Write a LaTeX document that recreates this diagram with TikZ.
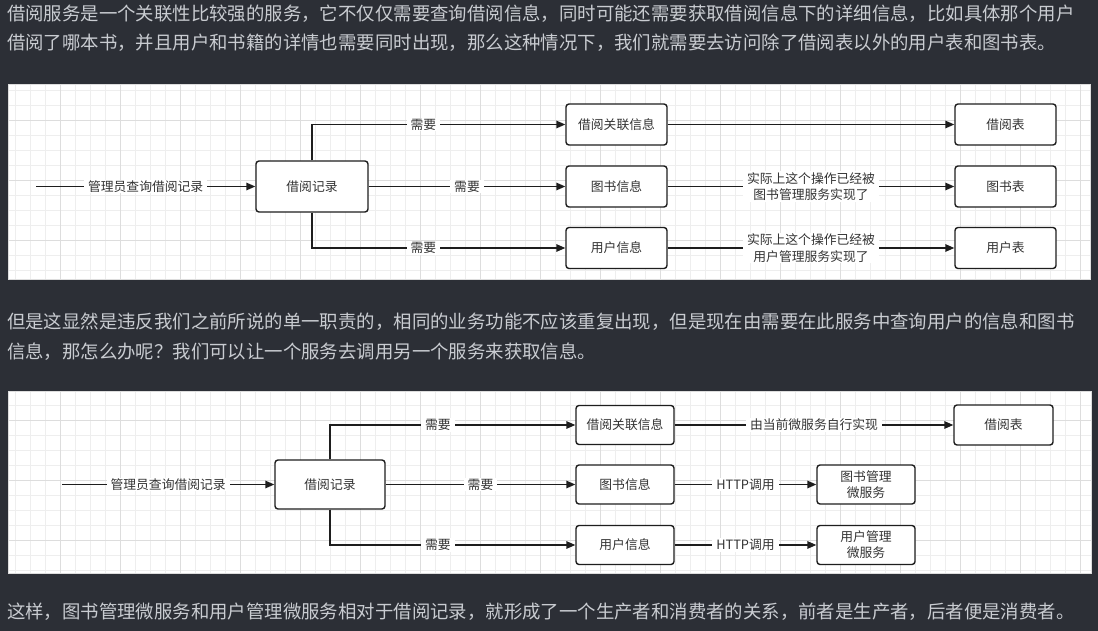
\documentclass[tikz,border=0pt]{standalone}
\usepackage{fontspec}
\setmainfont{Noto Sans CJK SC}
\usetikzlibrary{arrows.meta,positioning}
\definecolor{pagebg}{HTML}{2C2F36}
\definecolor{pagetext}{HTML}{C9CCD1}
\definecolor{ink}{HTML}{1E1E1E}
\definecolor{boxtext}{HTML}{333333}
\definecolor{gridlo}{HTML}{EEEEEE}
\definecolor{gridhi}{HTML}{DDDDDD}

\begin{document}
\begin{tikzpicture}[x=1pt, y=-1pt,
  para/.style={anchor=west, text=pagetext, font=\fontsize{18.4}{22}\selectfont, inner sep=0pt},
  box/.style={draw=ink, line width=1.4pt, rounded corners=3pt, fill=white, text=boxtext,
    font=\fontsize{12.8}{16}\selectfont, align=center, inner sep=0pt},
  rec1/.style={box, minimum width=112pt, minimum height=51pt},
  info1/.style={box, minimum width=101pt, minimum height=41pt},
  rec2/.style={box, minimum width=110pt, minimum height=49pt},
  info2/.style={box, minimum width=98pt, minimum height=39pt},
  flow/.style={draw=ink, line width=1.5pt, -{Triangle[length=9pt,width=7.5pt]}},
  lbl/.style={fill=white, text=boxtext, font=\fontsize{12.8}{16.5}\selectfont, inner xsep=4pt, inner ysep=1pt, align=center}]
  \useasboundingbox (0,0) rectangle (1098,631);
  \fill[pagebg] (0,0) rectangle (1098,631);

  \node[para] (p1) at (7,14) {借阅服务是一个关联性比较强的服务，它不仅仅需要查询借阅信息，同时可能还需要获取借阅信息下的详细信息，比如具体那个用户};
  \node[para] (p2) at (7,43) {借阅了哪本书，并且用户和书籍的详情也需要同时出现，那么这种情况下，我们就需要去访问除了借阅表以外的用户表和图书表。};
  \node[para] (p3) at (7,322) {但是这显然是违反我们之前所说的单一职责的，相同的业务功能不应该重复出现，但是现在由需要在此服务中查询用户的信息和图书};
  \node[para] (p4) at (7,352) {信息，那怎么办呢？我们可以让一个服务去调用另一个服务来获取信息。};
  \node[para] (p5) at (7,612) {这样，图书管理微服务和用户管理微服务相对于借阅记录，就形成了一个生产者和消费者的关系，前者是生产者，后者便是消费者。};

  \fill[white] (8,84) rectangle (1090,279);
  \draw[gridlo, line width=0.6pt, step=15pt] (8,279) grid (1090,84);
  \draw[gridhi, line width=0.8pt, step=60pt] (8,279) grid (1090,84);
  \draw[gridhi] (8,84) rectangle (1090,279);

  \coordinate (in1) at (36,186.5);
  \node[rec1] (jl1) at (312,186.5) {借阅记录};
  \node[info1] (gl1) at (616.5,124.5) {借阅关联信息};
  \node[info1] (ts1) at (616.5,186.5) {图书信息};
  \node[info1] (yh1) at (616.5,248) {用户信息};
  \node[info1] (jb1) at (1005.5,124.5) {借阅表};
  \node[info1] (tb1) at (1005.5,186.5) {图书表};
  \node[info1] (yb1) at (1005.5,248) {用户表};

  \draw[flow] (in1) -- node[lbl] {管理员查询借阅记录} (jl1);
  \draw[flow] (jl1) |- node[lbl, pos=0.72] {需要} (gl1);
  \draw[flow] (jl1) -- node[lbl] {需要} (ts1);
  \draw[flow] (jl1) |- node[lbl, pos=0.72] {需要} (yh1);
  \draw[flow] (gl1) -- (jb1);
  \draw[flow] (ts1) -- node[lbl] {实际上这个操作已经被\\图书管理服务实现了} (tb1);
  \draw[flow] (yh1) -- node[lbl] {实际上这个操作已经被\\用户管理服务实现了} (yb1);

  \fill[white] (8,391) rectangle (1091,573);
  \draw[gridlo, line width=0.6pt, step=15pt] (8,573) grid (1091,391);
  \draw[gridhi, line width=0.8pt, step=60pt] (8,573) grid (1091,391);
  \draw[gridhi] (8,391) rectangle (1091,573);

  \coordinate (in2) at (62,484.5);
  \node[rec2] (jl2) at (330,484.5) {借阅记录};
  \node[info2] (gl2) at (625,425) {借阅关联信息};
  \node[info2] (ts2) at (625,484.5) {图书信息};
  \node[info2] (yh2) at (625,545) {用户信息};
  \node[box, minimum width=99pt, minimum height=40pt] (jb2) at (1003.5,425) {借阅表};
  \node[info2] (tw2) at (866,484.5) {图书管理\\微服务};
  \node[info2] (yw2) at (866,545) {用户管理\\微服务};

  \draw[flow] (in2) -- node[lbl] {管理员查询借阅记录} (jl2);
  \draw[flow] (jl2) |- node[lbl, pos=0.72] {需要} (gl2);
  \draw[flow] (jl2) -- node[lbl] {需要} (ts2);
  \draw[flow] (jl2) |- node[lbl, pos=0.72] {需要} (yh2);
  \draw[flow] (gl2) -- node[lbl] {由当前微服务自行实现} (jb2);
  \draw[flow] (ts2) -- node[lbl] {HTTP调用} (tw2);
  \draw[flow] (yh2) -- node[lbl] {HTTP调用} (yw2);
\end{tikzpicture}
\end{document}
